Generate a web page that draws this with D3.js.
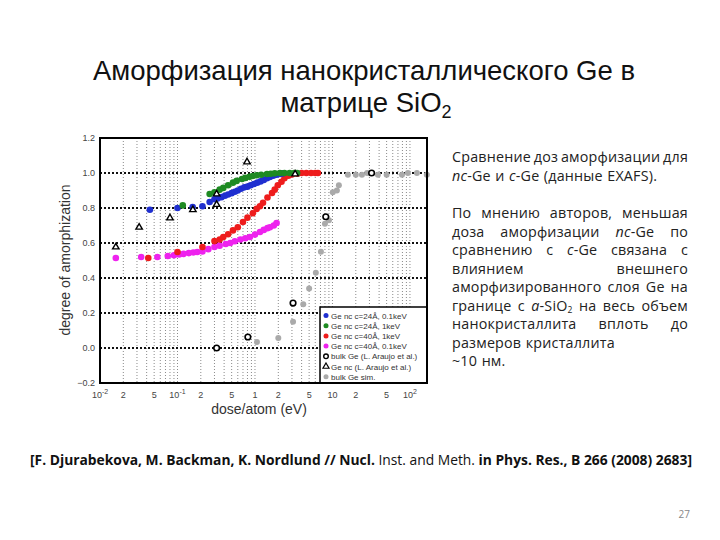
<!DOCTYPE html>
<html>
<head>
<meta charset="utf-8">
<script src="https://cdn.jsdelivr.net/npm/d3@7"></script>
<style>
  body { margin: 0; background: #fff; }
  svg { display: block; }
</style>
</head>
<body>
<svg width="720" height="540"></svg>
<script>
// Data: [dose (eV), degree of amorphization]
const blue24_01 = [
  [0.044, 0.79], [0.10, 0.80], [0.157, 0.806], [0.21, 0.81], [0.26, 0.834], [0.30, 0.85],
  [0.33, 0.855], [0.37, 0.862], [0.41, 0.87], [0.45, 0.877], [0.50, 0.885], [0.55, 0.893],
  [0.60, 0.90], [0.66, 0.91], [0.73, 0.918], [0.80, 0.922], [0.88, 0.93], [0.97, 0.937],
  [1.07, 0.945], [1.18, 0.952], [1.30, 0.96], [1.43, 0.97], [1.56, 0.977], [1.72, 0.985],
  [1.9, 0.99], [2.1, 0.995], [2.3, 0.998]
];
const green24_1 = [
  [0.117, 0.815], [0.26, 0.88], [0.30, 0.89], [0.35, 0.905], [0.39, 0.915], [0.45, 0.93],
  [0.52, 0.945], [0.58, 0.955], [0.68, 0.966], [0.75, 0.972], [0.85, 0.978], [0.94, 0.983],
  [1.05, 0.987], [1.2, 0.99], [1.43, 0.994], [1.6, 0.996], [1.8, 0.998], [2.1, 1.0],
  [2.4, 1.0], [2.8, 1.0], [3.2, 1.0], [3.5, 1.0]
];
const red40_1 = [
  [0.042, 0.514], [0.10, 0.549], [0.21, 0.577], [0.30, 0.611], [0.35, 0.62], [0.39, 0.634],
  [0.45, 0.65], [0.52, 0.672], [0.60, 0.69], [0.70, 0.72], [0.80, 0.745], [0.94, 0.77],
  [1.05, 0.795], [1.16, 0.81], [1.27, 0.83], [1.45, 0.86], [1.66, 0.886], [1.8, 0.905],
  [1.97, 0.93], [2.2, 0.95], [2.4, 0.97], [2.7, 0.985], [3.0, 0.992], [3.5, 0.996],
  [4.0, 1.0], [4.6, 1.0], [5.3, 1.0], [6.0, 1.0], [6.5, 1.0]
];
const magenta40_01 = [
  [0.016, 0.514], [0.034, 0.52], [0.055, 0.52], [0.075, 0.526], [0.09, 0.53], [0.105, 0.535],
  [0.12, 0.538], [0.14, 0.542], [0.16, 0.546], [0.18, 0.549], [0.21, 0.552], [0.25, 0.565],
  [0.30, 0.577], [0.35, 0.585], [0.42, 0.594], [0.48, 0.60], [0.55, 0.61], [0.65, 0.62],
  [0.75, 0.627], [0.86, 0.634], [1.0, 0.648], [1.16, 0.663], [1.3, 0.675], [1.45, 0.685],
  [1.56, 0.69], [1.75, 0.70], [1.9, 0.714]
];
const bulkAraujo = [[0.32, 0.0], [0.81, 0.063], [3.1, 0.257], [8.2, 0.75], [32, 1.0]];
const ncAraujo = [
  [0.016, 0.577], [0.032, 0.69], [0.08, 0.743], [0.158, 0.79], [0.32, 0.82], [0.32, 0.88],
  [0.79, 1.063], [3.3, 0.994]
];
const bulkSim = [
  [1.06, 0.034], [2.0, 0.057], [3.1, 0.15], [4.2, 0.25], [5.0, 0.34], [6.1, 0.43], [7.1, 0.55],
  [8.0, 0.71], [9.0, 0.73], [10.1, 0.89], [11.4, 0.90], [12.1, 0.93], [15.8, 0.99], [20, 0.99],
  [24, 0.99], [28, 1.0], [38.6, 0.99], [50, 0.99], [79, 0.99], [94, 1.0], [123, 1.0], [165, 0.99]
];

const yTicks = [-0.2, 0, 0.2, 0.4, 0.6, 0.8, 1.0, 1.2];
const yGrid = [0, 0.2, 0.4, 0.6, 0.8, 1.0];
const xTickLabels = [
  [0.01, "10", "-2"], [0.02, "2"], [0.05, "5"], [0.1, "10", "-1"], [0.2, "2"], [0.5, "5"],
  [1, "1"], [2, "2"], [5, "5"], [10, "10"], [20, "2"], [50, "5"], [100, "10", "2"]
];

const legendItems = [
  ["Ge nc c=24Å, 0.1keV", "dot", "#1f2fd0"],
  ["Ge nc c=24Å, 1keV", "dot", "#1e8a22"],
  ["Ge nc c=40Å, 1keV", "dot", "#ee1c1c"],
  ["Ge nc c=40Å, 0.1keV", "dot", "#ee22ee"],
  ["bulk Ge (L. Araujo et al.)", "circle", "#000"],
  ["Ge nc (L. Araujo et al.)", "tri", "#000"],
  ["bulk Ge sim.", "dot", "#aaaaaa"]
];

const titleLines = ["Аморфизация нанокристаллического Ge в", "матрице SiO|2"];
const para1 = ["Сравнение доз аморфизации для", "_nc_-Ge и _c_-Ge (данные EXAFS)."];
const para2 = [
  "По мнению авторов, меньшая",
  "доза аморфизации _nc_-Ge по",
  "сравнению с _c_-Ge связана с",
  "влиянием внешнего",
  "аморфизированного слоя Ge на",
  "границе с _a_-SiO|2 на весь объем",
  "нанокристаллита вплоть до",
  "размеров кристаллита",
  "~10 нм."
];

const svg = d3.select("svg");

// Title
const title = svg.append("g")
  .attr("font-family", "Liberation Sans, Arial, sans-serif")
  .attr("font-size", 27.5)
  .attr("fill", "#111")
  .attr("text-anchor", "middle");
title.append("text").attr("x", 364).attr("y", 80).text(titleLines[0]);
const t2 = title.append("text").attr("x", 366).attr("y", 112);
t2.append("tspan").text("матрице SiO");
t2.append("tspan").attr("font-size", 18).attr("dy", 6).text("2");

// Chart
const plot = { left: 100, right: 427, top: 138, bottom: 383 };
const x = d3.scaleLog().domain([0.01, 166]).range([plot.left, plot.right]);
const y = d3.scaleLinear().domain([-0.2, 1.2]).range([plot.bottom, plot.top]);

// vertical minor grid
const minor = [];
for (let e = -2; e <= 2; e++) {
  for (let m = 1; m <= 9; m++) {
    const v = m * Math.pow(10, e);
    if (v > 0.01 && v < 166) minor.push(v);
  }
}
svg.append("g").selectAll("line").data(minor).join("line")
  .attr("x1", d => x(d)).attr("x2", d => x(d))
  .attr("y1", plot.top).attr("y2", plot.bottom)
  .attr("stroke", "#8a8a8a").attr("stroke-width", 1)
  .attr("stroke-dasharray", "1,2");

svg.append("g").selectAll("line").data(yGrid).join("line")
  .attr("x1", plot.left).attr("x2", plot.right)
  .attr("y1", d => y(d)).attr("y2", d => y(d))
  .attr("stroke", "#111").attr("stroke-width", 2)
  .attr("stroke-dasharray", "2,2");

// series
const series = [
  [magenta40_01, "#ee22ee"],
  [red40_1, "#ee1c1c"],
  [blue24_01, "#1f2fd0"],
  [green24_1, "#1e8a22"]
];
series.forEach(([data, color]) => {
  svg.append("g").selectAll("circle").data(data).join("circle")
    .attr("cx", d => x(d[0])).attr("cy", d => y(d[1]))
    .attr("r", 3.3).attr("fill", color);
});

svg.append("g").selectAll("circle").data(bulkSim).join("circle")
  .attr("cx", d => x(d[0])).attr("cy", d => y(d[1]))
  .attr("r", 3).attr("fill", "#aaaaaa");

svg.append("g").selectAll("circle").data(bulkAraujo).join("circle")
  .attr("cx", d => x(d[0])).attr("cy", d => y(d[1]))
  .attr("r", 2.8).attr("fill", "#fff").attr("stroke", "#000").attr("stroke-width", 1.6);

const tri = d3.symbol().type(d3.symbolTriangle).size(18);
svg.append("g").selectAll("path").data(ncAraujo).join("path")
  .attr("d", tri)
  .attr("transform", d => `translate(${x(d[0])},${y(d[1])})`)
  .attr("fill", "#fff").attr("stroke", "#000").attr("stroke-width", 1.4);

// legend
const lg = svg.append("g");
lg.append("rect")
  .attr("x", 320).attr("y", 307).attr("width", plot.right - 320).attr("height", plot.bottom - 307)
  .attr("fill", "#fff").attr("stroke", "#000").attr("stroke-width", 1.5);
legendItems.forEach(([label, kind, color], i) => {
  const cy = 315.5 + i * 10.2;
  if (kind === "dot") {
    lg.append("circle").attr("cx", 326).attr("cy", cy).attr("r", 2.5).attr("fill", color);
  } else if (kind === "circle") {
    lg.append("circle").attr("cx", 326).attr("cy", cy).attr("r", 2.3)
      .attr("fill", "#fff").attr("stroke", "#000").attr("stroke-width", 1.4);
  } else {
    lg.append("path").attr("d", d3.symbol().type(d3.symbolTriangle).size(16))
      .attr("transform", `translate(326,${cy})`)
      .attr("fill", "#fff").attr("stroke", "#000").attr("stroke-width", 1.2);
  }
  lg.append("text").attr("x", 331).attr("y", cy + 3)
    .attr("font-family", "Liberation Sans, Arial, sans-serif")
    .attr("font-size", 8).attr("fill", "#333").text(label);
});

// frame
svg.append("rect")
  .attr("x", plot.left).attr("y", plot.top)
  .attr("width", plot.right - plot.left).attr("height", plot.bottom - plot.top)
  .attr("fill", "none").attr("stroke", "#000").attr("stroke-width", 2);

// tick labels
const tickFont = "Liberation Sans, Arial, sans-serif";
svg.append("g").selectAll("text").data(yTicks).join("text")
  .attr("x", 95).attr("y", d => y(d) + 3)
  .attr("text-anchor", "end").attr("font-family", tickFont).attr("font-size", 9)
  .attr("fill", "#444")
  .text(d => d3.format(".1f")(d));

xTickLabels.forEach(([v, base, sup]) => {
  const t = svg.append("text")
    .attr("x", x(v)).attr("y", 398)
    .attr("text-anchor", "middle").attr("font-family", tickFont).attr("font-size", 9)
    .attr("fill", "#444");
  t.append("tspan").text(base);
  if (sup) t.append("tspan").attr("font-size", 7).attr("dy", -4).text(sup);
});

svg.append("text")
  .attr("x", 259).attr("y", 414)
  .attr("text-anchor", "middle").attr("font-family", tickFont).attr("font-size", 14)
  .attr("fill", "#333")
  .text("dose/atom (eV)");

svg.append("text")
  .attr("transform", "translate(70,260) rotate(-90)")
  .attr("text-anchor", "middle").attr("font-family", tickFont).attr("font-size", 14)
  .attr("fill", "#333")
  .text("degree of amorphization");

// right text block, justified by hand
const textFont = "Open Sans, Noto Sans, sans-serif";
const blockLeft = 452, blockWidth = 236;

function addRuns(textEl, word) {
  // _x_ = italic, |x = subscript
  const parts = word.split(/(_[^_]+_|\|\d)/).filter(s => s.length);
  parts.forEach(p => {
    if (p.startsWith("_")) {
      textEl.append("tspan").attr("font-style", "italic").text(p.slice(1, -1));
    } else if (p.startsWith("|")) {
      textEl.append("tspan").attr("font-size", 8.5).attr("dy", 2).text(p.slice(1));
    } else {
      textEl.append("tspan").text(p);
    }
  });
}

function drawLine(line, yPos, justify) {
  const g = svg.append("g").attr("font-family", textFont).attr("font-size", 14.3)
    .attr("letter-spacing", 0.2).attr("fill", "#222");
  const words = line.split(" ");
  const els = words.map(w => {
    const t = g.append("text").attr("y", yPos);
    addRuns(t, w);
    return t;
  });
  const widths = els.map(t => t.node().getComputedTextLength());
  const total = d3.sum(widths);
  const gap = justify && words.length > 1 ? (blockWidth - total) / (words.length - 1) : 4.5;
  let cx = blockLeft;
  els.forEach((t, i) => {
    t.attr("x", cx);
    cx += widths[i] + gap;
  });
}

para1.forEach((l, i) => drawLine(l, 162 + i * 18.6, i < para1.length - 1));
para2.forEach((l, i) => drawLine(l, 218 + i * 18.5, i < 7));

// citation
const cite = svg.append("text")
  .attr("x", 30).attr("y", 465)
  .attr("font-family", "Open Sans, Noto Sans, sans-serif").attr("font-size", 14)
  .attr("fill", "#111")
  .attr("textLength", 662).attr("lengthAdjust", "spacingAndGlyphs");
cite.append("tspan").attr("font-weight", "bold").text("[F. Djurabekova, M. Backman, K. Nordlund // Nucl.");
cite.append("tspan").text(" Inst. and Meth.");
cite.append("tspan").attr("font-weight", "bold").text(" in Phys. Res., B 266 (2008) 2683]");

svg.append("text")
  .attr("x", 690).attr("y", 518).attr("text-anchor", "end")
  .attr("font-family", "Open Sans, sans-serif").attr("font-size", 10).attr("fill", "#888")
  .text("27");
</script>
</body>
</html>
